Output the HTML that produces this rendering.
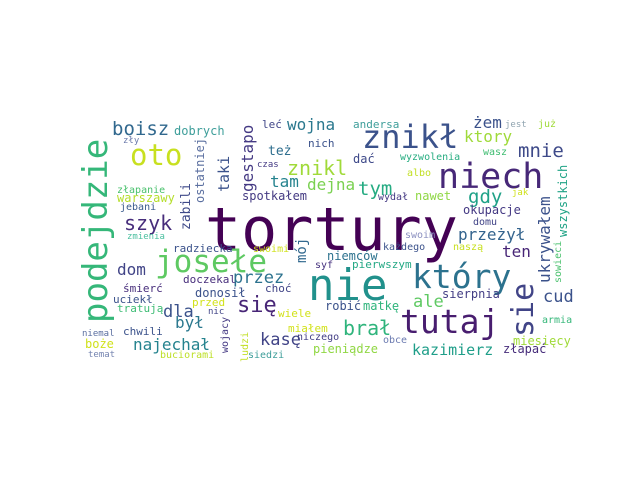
<!DOCTYPE html>
<html><head><meta charset="utf-8"><style>
html,body{margin:0;padding:0;background:#fff;}
svg{display:block;}
text{font-family:"DejaVu Sans Mono","Liberation Mono",monospace;}
</style></head><body>
<svg id="cloud" width="640" height="480" viewBox="0 0 640 480" xmlns="http://www.w3.org/2000/svg">
<rect width="640" height="480" fill="#ffffff"/>
</svg>
<script>
const words = ["tortury","nie","niech","znikł","który","tutaj","josełe","podejdzie","boisz","dobrych","oto","zły","gestapo","leć","wojna","też","taki","ostatniej","zabili","złapanie","warszawy","jebani","szyk","zmienia","tam","spotkałem","znikl","dejna","tym","czas","nich","andersa","dać","wyzwolenia","żem","jest","już","ktory","mnie","wasz","albo","gdy","nawet","wydał","jak","wszystkich","ukrywałem","okupacje","domu","swoim","przeżył","sowieci","ten","każdego","naszą","niemców","syf","pierwszym","mój","cud","sie","sierpnia","ale","robić","matkę","armia","brał","obce","miesięcy","kazimierz","złapać","pieniądze","niczego","miałem","kasę","ludzi","siedzi","buciorami","wojacy","najechał","chwili","niemal","boże","temat","był","dla","przed","nic","wiele","tratują","uciekł","śmierć","donosił","choć","się","przez","doczekal","dom","radziecka","swoimi"];
const sizes = [60,44,35,32,33,33,31,34,19,12,29,9,16,11,16,13,15,12,13,10,12,10,20,9,16,12,20,16,19,9,11,11,12,10,16,9,10,16,19,10,10,19,12,10,9,12,16,12,10,10,16,10,16,10,10,12,10,11,14,17,30,12,17,12,12,10,20,10,12,15,12,12,10,11,17,10,10,10,10,16,11,9,12,9,16,17,11,9,11,11,11,11,12,11,22,17,11,16,11,10];
const xs = [205,308,438,362,412,400,155,107,112,174,130,123,253,262,287,268,229,204,190,117,117,120,124,127,270,242,287,307,358,257,308,353,353,400,473,505,538,464,518,483,407,468,415,378,512,567,550,463,473,405,458,561,502,383,453,327,315,352,306,543,533,442,413,325,363,542,343,383,513,412,503,313,297,288,260,248,248,160,228,133,123,82,85,88,175,163,192,208,278,117,113,123,195,265,237,233,183,117,173,253];
const ys = [250,300,188,148,288,333,272,323,135,135,165,143,192,128,130,155,192,203,230,193,202,210,230,239,187,200,175,190,195,167,147,128,163,160,128,127,127,142,157,155,176,203,200,200,195,237,283,214,225,238,240,283,257,250,250,260,268,268,263,302,337,298,307,310,310,323,335,343,345,355,353,353,340,332,345,362,358,358,353,350,335,336,348,357,328,317,306,314,317,312,303,292,297,292,312,283,283,275,252,252];
const rots = [0,0,0,0,0,0,0,1,0,0,0,0,1,0,0,0,1,1,1,0,0,0,0,0,0,0,0,0,0,0,0,0,0,0,0,0,0,0,0,0,0,0,0,0,0,1,1,0,0,0,0,1,0,0,0,0,0,0,1,0,1,0,0,0,0,0,0,0,0,0,0,0,0,0,0,1,0,0,1,0,0,0,0,0,0,0,0,0,0,0,0,0,0,0,0,0,0,0,0,0];
const colors = ["#440154","#21918c","#472878","#3b528b","#2c728e","#481d6f","#5ec962","#35b779","#31688e","#3e9e9a","#c8e020","#6b7aab","#443983","#404688","#2a788e","#2e6e8e","#3b528b","#5b6fa0","#3e4989","#4ac16d","#b5de2b","#38598c","#472d7b","#4cc0a0","#25838e","#443a83","#a0da39","#7ad151","#25ab82","#443983","#3b528b","#3e9e9a","#3e4989","#27ad81","#3b528b","#90a4b0","#a0da39","#9fda3a","#3e4a89","#40bd72","#c2df23","#1fa187","#8fd744","#443983","#d0e11c","#20a386","#3b528b","#443983","#414487","#8b90c0","#33638d","#4ac16d","#482677","#3b528b","#c8e020","#2c728e","#46327e","#23a884","#31688e","#3b528b","#414487","#433e85","#5ec962","#3b528b","#2fb47c","#35b779","#2fb47c","#6b7ab0","#a0da39","#1f9e89","#472d7b","#90d743","#433e85","#d2e21b","#414487","#c2df23","#3e9e9a","#bddf26","#443983","#25838e","#3b528b","#5b6fa0","#d0e11c","#7584b0","#2a788e","#3b528b","#d2e21b","#414487","#d2e21b","#3dbc74","#3b528b","#472d7b","#3b528b","#414487","#482677","#2c728e","#472d7b","#414487","#3b528b","#d0e11c"];
const svg = document.getElementById('cloud');
const NS = 'http://www.w3.org/2000/svg';
for (let i = 0; i < words.length; i++) {
  const t = document.createElementNS(NS, 'text');
  
  
  t.setAttribute('font-size', sizes[i]);
  t.setAttribute('fill', colors[i]);
  t.setAttribute('x', xs[i]);
  t.setAttribute('y', ys[i]);
  if (rots[i]) t.setAttribute('transform', 'rotate(-90 ' + xs[i] + ' ' + ys[i] + ')');
  t.textContent = words[i];
  svg.appendChild(t);
}
</script>
</body></html>
